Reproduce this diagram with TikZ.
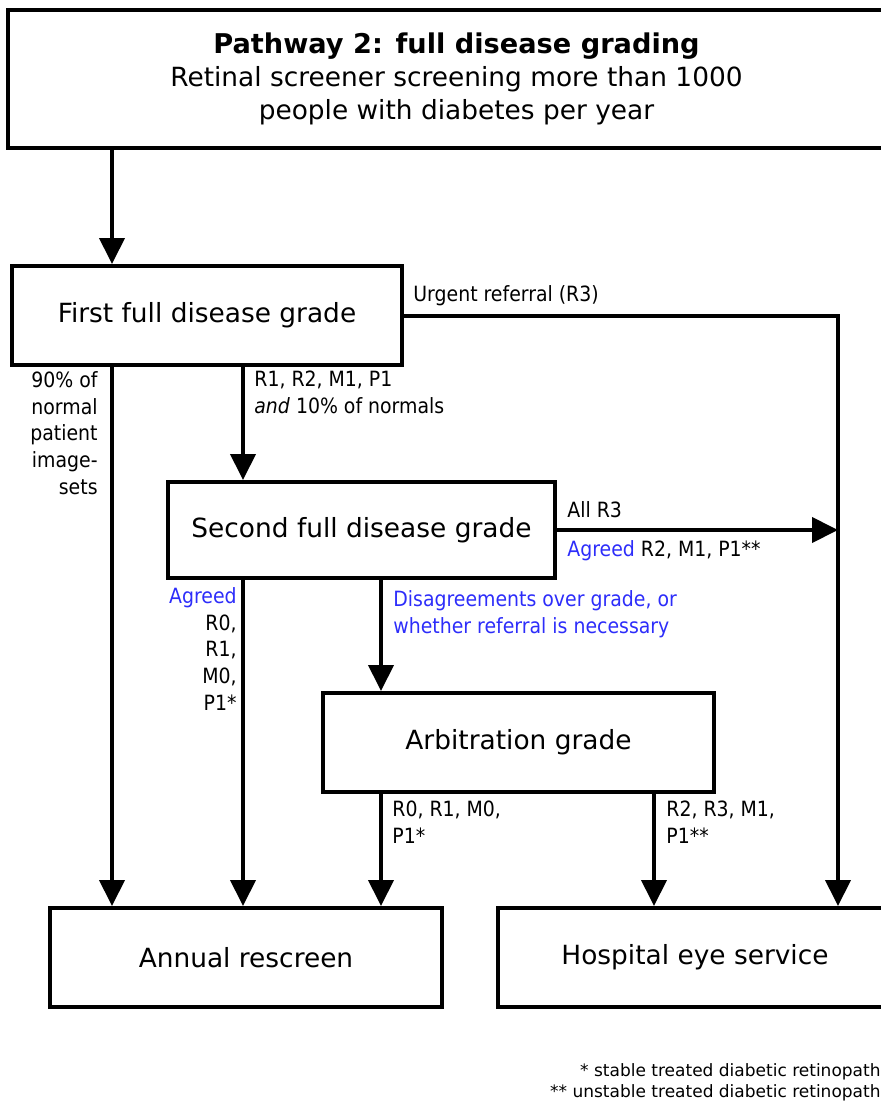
\documentclass[tikz,border=0pt]{standalone}
\usepackage{fontspec}
\setmainfont{DejaVu Sans}
\newfontfamily\lblfont{DejaVu Sans Condensed}
\usetikzlibrary{arrows.meta,positioning}
\definecolor{agreeblue}{RGB}{45,45,250}

\begin{document}
\begin{tikzpicture}[x=0.5pt,y=-0.5pt,
    box/.style={draw,line width=2pt,minimum height=49.5pt,inner sep=0pt,
        font=\fontsize{13.2}{16.5}\selectfont},
    flow/.style={line width=2pt,-{Triangle[length=13pt,width=12.5pt]}},
    lbl/.style={inner sep=0pt,font=\lblfont\fontsize{10.5}{13.4}\selectfont},
    foot/.style={inner sep=0pt,font=\fontsize{8.5}{10.5}\selectfont}]
                        \useasboundingbox (0,0) rectangle (881,1102);

                        % boxes
                        \node[box,minimum width=448.5pt,minimum height=69pt,align=center] (top) at (456.5,79)
                            {{\bfseries\fontsize{13.6}{16.5}\selectfont Pathway 2: full disease grading}\\
                             Retinal screener screening more than 1000\\people with diabetes per year};
                        \node[box,minimum width=195pt] (first) at (207,315.5) {First full disease grade};
                        \node[box,minimum width=193.5pt,minimum height=48pt] (second) at (361.5,530) {Second full disease grade};
                        \node[box,minimum width=195.5pt] (arb) at (518.5,742.5) {Arbitration grade};
                        \node[box,minimum width=196pt] (annual) at (246,957.5) {Annual rescreen};
                        \node[box,minimum width=197pt] (hosp) at (695,957.5) {Hospital eye service};

                        % columns of the down arrows
                        \coordinate (colA) at (112,0);
                        \coordinate (colB) at (243,0);
                        \coordinate (colC) at (381,0);
                        \coordinate (colD) at (654,0);
                        \coordinate (colE) at (838,0);

                        \draw[flow] (colA |- top.south) -- (colA |- first.north);
                        \draw[flow] (colA |- first.south) -- (colA |- annual.north);
                        \draw[flow] (colB |- first.south) -- (colB |- second.north);
                        \draw[flow] (first.east) -| (colE |- hosp.north);
                        \draw[flow] (second.east) -- (colE |- second.east);
                        \draw[flow] (colB |- second.south) -- (colB |- annual.north);
                        \draw[flow] (colC |- second.south) -- (colC |- arb.north);
                        \draw[flow] (colC |- arb.south) -- (colC |- annual.north);
                        \draw[flow] (colD |- arb.south) -- (colD |- hosp.north);

                        % labels
                        \node[lbl,anchor=west] (urgent) at (413,296) {Urgent referral (R3)};
                        \node[lbl,anchor=north east,align=right] (normals) at (98,371)
                            {90\% of\\normal\\patient\\image-\\sets};
                        \node[lbl,anchor=north west,align=left] (toSecond) at (254,371)
                            {R1, R2, M1, P1\\\textit{and} 10\% of normals};
                        \node[lbl,anchor=west] (allR3) at (567,510) {All R3};
                        \node[lbl,anchor=west] (agreedRef) at (567,551)
                            {\textcolor{agreeblue}{Agreed} R2, M1, P1**};
                        \node[lbl,anchor=north east,align=right] (agreedLow) at (237,587)
                            {\textcolor{agreeblue}{Agreed}\\R0,\\R1,\\M0,\\P1*};
                        \node[lbl,anchor=north west,align=left,text=agreeblue] (disagree) at (393,590)
                            {Disagreements over grade, or\\whether referral is necessary};
                        \node[lbl,anchor=north west,align=left] (arbLow) at (392,801) {R0, R1, M0,\\P1*};
                        \node[lbl,anchor=north west,align=left] (arbHigh) at (666,801) {R2, R3, M1,\\P1**};

                        % footnotes
                        \node[foot,anchor=east,align=right] (notes) at (891,1082)
                            {* stable treated diabetic retinopathy\\** unstable treated diabetic retinopathy};
                    \end{tikzpicture}
\end{document}
